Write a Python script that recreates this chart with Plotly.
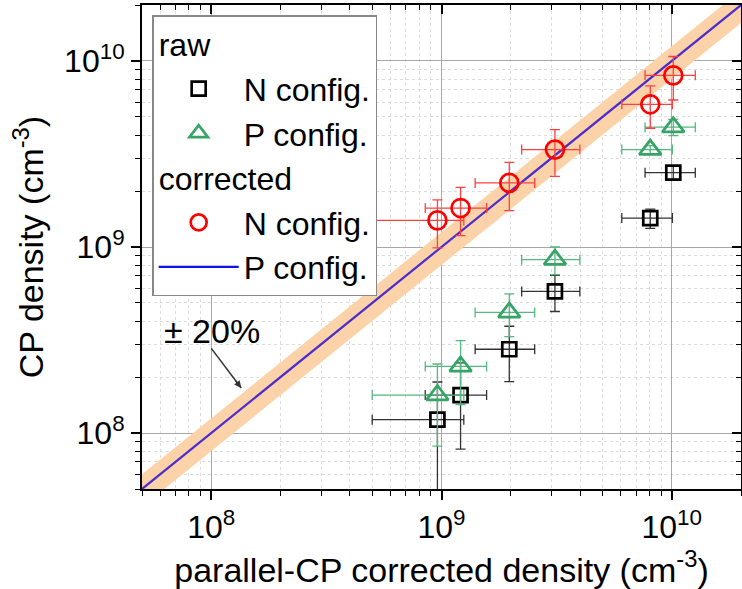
import plotly.graph_objects as go

# ---- data ----
x_vals = [9.6e8, 1.21e9, 1.97e9, 3.11e9, 8.07e9, 1.016e10]
x_err_plus = [0.29e9, 0.36e9, 0.57e9, 0.88e9, 2.0e9, 2.5e9]
x_err_minus = [0.46e9, 0.36e9, 0.57e9, 0.88e9, 2.0e9, 2.5e9]

raw_N = [1.18e8, 1.60e8, 2.82e8, 5.77e8, 1.43e9, 2.51e9]
raw_N_err = [0.70e8, 0.78e8, 0.93e8, 1.27e8, 0.17e9, 0.20e9]

raw_P = [1.60e8, 2.28e8, 4.45e8, 8.55e8, 3.34e9, 4.41e9]
raw_P_err = [0.75e8, 0.86e8, 1.15e8, 1.45e8, 0.17e9, 0.44e9]

corr_N = [1.39e9, 1.62e9, 2.21e9, 3.34e9, 5.85e9, 8.37e9]
corr_N_err = [0.40e9, 0.47e9, 0.64e9, 0.94e9, 1.5e9, 2.2e9]

ref_line = [5e7, 2e10]
band_frac = 0.20

tick_vals = [1e8, 1e9, 1e10]
tick_text = ["10<sup>8</sup>", "10<sup>9</sup>", "10<sup>10</sup>"]
minor_vals = [m * 10 ** e for e in (7, 8, 9, 10) for m in range(2, 10)]

# annotation positions (log10 units)
label_pos = (8.004, 8.549)
arrow_tail = (8.0, 8.455)
arrow_head = (8.13, 8.242)

FONT = "Arial, Liberation Sans, sans-serif"

fig = go.Figure()

# ±20% band
fig.add_trace(go.Scatter(x=ref_line, y=[v * (1 - band_frac) for v in ref_line],
                         mode="lines", line=dict(width=0, color="rgba(0,0,0,0)"),
                         showlegend=False, hoverinfo="skip"))
fig.add_trace(go.Scatter(x=ref_line, y=[v * (1 + band_frac) for v in ref_line],
                         mode="lines", line=dict(width=0, color="rgba(0,0,0,0)"),
                         fill="tonexty", fillcolor="rgb(252,210,168)",
                         showlegend=False, hoverinfo="skip"))
# y = x line
fig.add_trace(go.Scatter(x=ref_line, y=ref_line, mode="lines",
                         line=dict(color="#4b2ccc", width=2.2),
                         showlegend=False, hoverinfo="skip"))

# arrow shaft of the "± 20%" label
fig.add_trace(go.Scatter(x=[10 ** arrow_tail[0], 10 ** arrow_head[0]],
                         y=[10 ** arrow_tail[1], 10 ** arrow_head[1]],
                         mode="lines", line=dict(color="#333333", width=1.5),
                         showlegend=False, hoverinfo="skip"))


def ex(color):
    return dict(type="data", symmetric=False, array=x_err_plus, arrayminus=x_err_minus,
                color=color, thickness=1.3, width=5)


def ey(arr, color):
    return dict(type="data", array=arr, color=color, thickness=1.3, width=5)


fig.add_trace(go.Scatter(
    x=x_vals, y=raw_N, mode="markers", name="N config.",
    legendgroup="raw", legendgrouptitle=dict(text="raw"),
    marker=dict(symbol="square-open", size=14, color="black", line=dict(width=2.7)),
    error_x=ex("#333333"), error_y=ey(raw_N_err, "#333333")))
fig.add_trace(go.Scatter(
    x=x_vals, y=raw_P, mode="markers", name="P config.",
    legendgroup="raw",
    marker=dict(symbol="triangle-up-open", size=19, color="#35a465", line=dict(width=2.7)),
    error_x=ex("#55b880"), error_y=ey(raw_P_err, "#55b880")))
fig.add_trace(go.Scatter(
    x=x_vals, y=corr_N, mode="markers", name="N config.",
    legendgroup="corr", legendgrouptitle=dict(text="corrected"),
    marker=dict(symbol="circle-open", size=18, color="#ff0000", line=dict(width=2.7)),
    error_x=ex("#ff4040"), error_y=ey(corr_N_err, "#ff4040")))
fig.add_trace(go.Scatter(
    x=[None], y=[None], mode="lines", name="P config.",
    legendgroup="corr", line=dict(color="#1010f0", width=2.2)))

# invisible trace for mirrored (inside) ticks on top/right
fig.add_trace(go.Scatter(x=ref_line, y=ref_line, xaxis="x2", yaxis="y2", mode="markers",
                         marker=dict(opacity=0), showlegend=False, hoverinfo="skip"))

rng = [7.69897, 10.30103]
common = dict(type="log", range=rng, showline=True, linecolor="black", linewidth=2,
              tickmode="array", tickvals=tick_vals, ticktext=tick_text,
              ticks="outside", ticklen=9, tickwidth=1.5, tickcolor="black",
              showgrid=True, gridcolor="#a8a8a8", gridwidth=1, zeroline=False,
              tickfont=dict(family=FONT, size=32, color="black"),
              minor=dict(tickmode="array", tickvals=minor_vals,
                         ticks="outside", ticklen=5, tickwidth=1.2, tickcolor="black",
                         showgrid=True, gridcolor="#dcdcdc", griddash="dot", gridwidth=1))

mirror = dict(type="log", range=rng, showticklabels=False,
              tickmode="array", tickvals=tick_vals,
              ticks="inside", ticklen=9, tickwidth=1.5, tickcolor="black",
              showgrid=False, showline=True, linecolor="black", linewidth=2,
              minor=dict(tickmode="array", tickvals=minor_vals, ticks="inside", ticklen=5,
                         tickwidth=1.2, tickcolor="black", showgrid=False))

fig.update_layout(
    width=742, height=589,
    margin=dict(l=142, r=1, t=5, b=100),
    paper_bgcolor="white", plot_bgcolor="white",
    font=dict(family=FONT, color="black"),
    xaxis=dict(**common, title=dict(text="parallel-CP corrected density (cm<sup>-3</sup>)",
                                    font=dict(family=FONT, size=34), standoff=8)),
    yaxis=dict(**common, title=dict(text="CP density (cm<sup>-3</sup>)",
                                    font=dict(family=FONT, size=34), standoff=10)),
    xaxis2=dict(**mirror, overlaying="x", side="top"),
    yaxis2=dict(**mirror, overlaying="y", side="right"),
    legend=dict(x=0.017, y=0.979, xanchor="left", yanchor="top",
                bgcolor="white", bordercolor="#888888", borderwidth=1.5,
                font=dict(family=FONT, size=32, color="black"),
                grouptitlefont=dict(family=FONT, size=32, color="black"),
                tracegroupgap=0, traceorder="grouped", itemwidth=80),
    showlegend=True,
    annotations=[
        dict(x=label_pos[0], y=label_pos[1], xref="x", yref="y", text="± 20%",
             showarrow=False, font=dict(family=FONT, size=34, color="black")),
        dict(x=arrow_head[0], y=arrow_head[1], xref="x", yref="y", ax=-7, ay=-9,
             text="", showarrow=True, arrowhead=2, arrowsize=1, arrowwidth=1.4,
             standoff=0, arrowcolor="#333333", font=dict(size=1)),
    ],
)

fig.write_html("out.html")
